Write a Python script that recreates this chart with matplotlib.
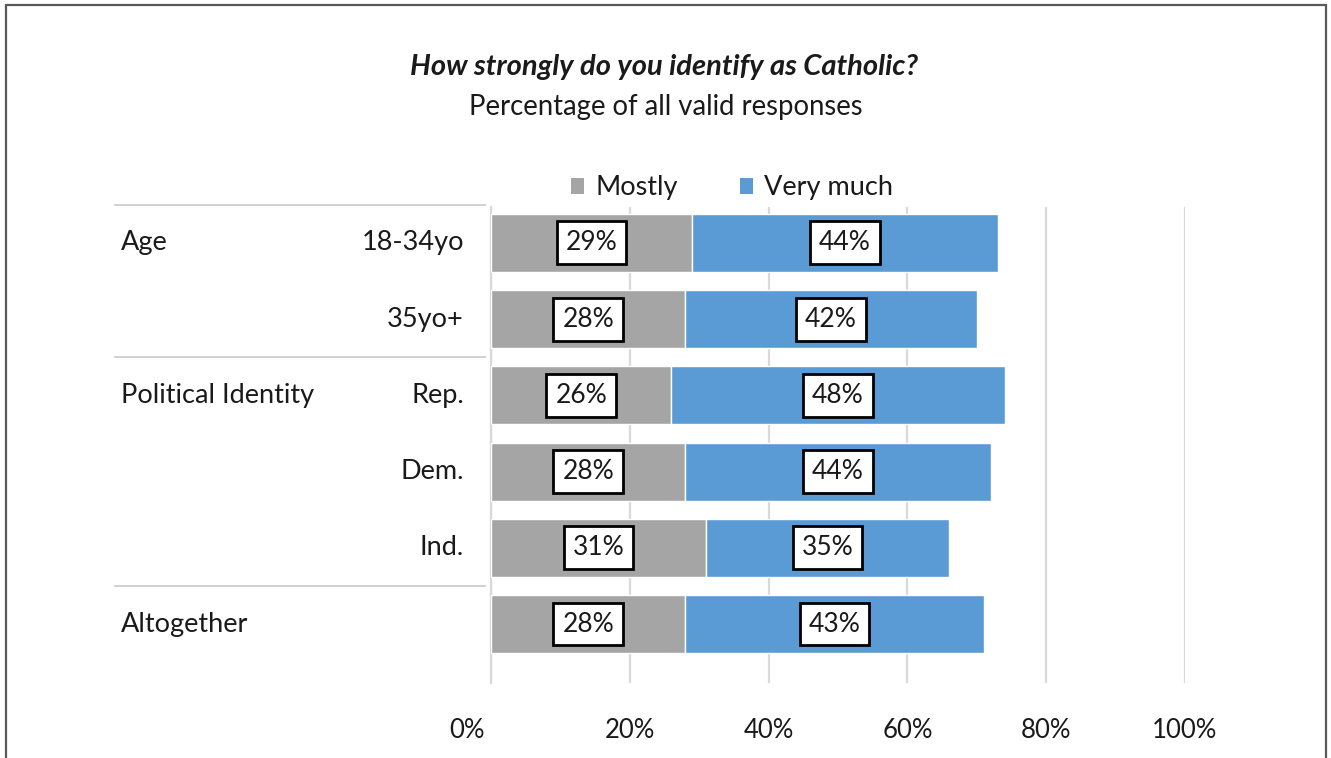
import matplotlib
matplotlib.use("Agg")
import matplotlib.pyplot as plt
import matplotlib.transforms as mtransforms
from matplotlib.patches import Rectangle, Patch
from matplotlib.lines import Line2D

plt.rcParams["font.family"] = ["Lato", "DejaVu Sans"]

# ---- data ----
groups = ["Age", "", "Political Identity", "", "", "Altogether"]
subgroups = ["18-34yo", "35yo+", "Rep.", "Dem.", "Ind.", ""]
mostly = [29, 28, 26, 28, 31, 28]
very_much = [44, 42, 48, 44, 35, 43]
series_names = ["Mostly", "Very much"]
x_ticks = [0, 20, 40, 60, 80, 100]
x_tick_labels = ["0%", "20%", "40%", "60%", "80%", "100%"]
group_breaks = [-0.5, 1.5, 4.5]

title = "How strongly do you identify as Catholic?"
subtitle = "Percentage of all valid responses"

GRAY = "#A5A5A5"
BLUE = "#5B9BD5"
GRID = "#D9D9D9"
TXT = "#1a1a1a"

W, H = 1331, 758
fig = plt.figure(figsize=(W / 100, H / 100), dpi=100)

def fx(px):
    return px / W

def fy(py):
    return 1 - py / H

ax = fig.add_axes([fx(491), fy(683), fx(1185) - fx(491), fy(207) - fy(683)])

rows = list(range(len(mostly)))
bar_h = 0.76
ax.barh(rows, mostly, height=bar_h, color=GRAY, edgecolor="white", linewidth=1.0, zorder=3)
ax.barh(rows, very_much, left=mostly, height=bar_h, color=BLUE, edgecolor="white", linewidth=1.0, zorder=3)

box = dict(boxstyle="square,pad=0.34", facecolor="white", edgecolor="black", linewidth=2.0)
for r, m, v in zip(rows, mostly, very_much):
    ax.text(m / 2, r, f"{m}%", ha="center", va="center", fontsize=19, color=TXT, bbox=box, zorder=5)
    ax.text(m + v / 2, r, f"{v}%", ha="center", va="center", fontsize=19, color=TXT, bbox=box, zorder=5)

ax.set_xlim(0, 100)
ax.set_ylim(5.774, -0.472)
ax.set_yticks([])
ax.set_xticks(x_ticks)
ax.set_xticklabels(x_tick_labels, fontsize=18.5, color=TXT)
ax.tick_params(axis="x", length=0, pad=25)
ax.xaxis.grid(True, color=GRID, linewidth=1.6, zorder=0)
for s in ["top", "right", "bottom"]:
    ax.spines[s].set_visible(False)
ax.spines["left"].set_color(GRID)
ax.spines["left"].set_linewidth(1.6)

# first tick label sits a little left of the axis line
first = ax.get_xticklabels()[0]
first.set_transform(first.get_transform() + mtransforms.ScaledTranslation(-24 / 100, 0, fig.dpi_scale_trans))

# category table on the left
blend = mtransforms.blended_transform_factory(fig.transFigure, ax.transData)
for yb in group_breaks:
    ax.add_line(Line2D([fx(115), fx(485)], [yb, yb], transform=blend, color="#C8C8C8",
                       linewidth=1.2, clip_on=False))
for r, (g, s) in enumerate(zip(groups, subgroups)):
    if g:
        ax.text(fx(121), r, g, transform=blend, ha="left", va="center", fontsize=19.5, color=TXT)
    if s:
        ax.text(fx(464), r, s, transform=blend, ha="right", va="center", fontsize=19.5, color=TXT)

# titles
fig.text(fx(664), fy(67), title, ha="center", va="center", fontsize=21,
         fontweight="bold", fontstyle="italic", color=TXT)
fig.text(fx(666), fy(107), subtitle, ha="center", va="center", fontsize=19.8, color=TXT)

# legend
handles = [Patch(facecolor=GRAY, edgecolor="none"), Patch(facecolor=BLUE, edgecolor="none")]
fig.legend(handles, series_names, loc="center", bbox_to_anchor=(fx(732), fy(188)), ncol=2,
           frameon=False, fontsize=19.5, handlelength=0.5, handleheight=0.5, handletextpad=0.4,
           columnspacing=2.3, labelcolor=TXT)

# outer frame
fig.add_artist(Rectangle((fx(6), -0.05), fx(1326) - fx(6), fy(5) + 0.05, transform=fig.transFigure,
                         fill=False, edgecolor="#595959", linewidth=1.6, clip_on=False))

fig.savefig("out.png", dpi=100)
